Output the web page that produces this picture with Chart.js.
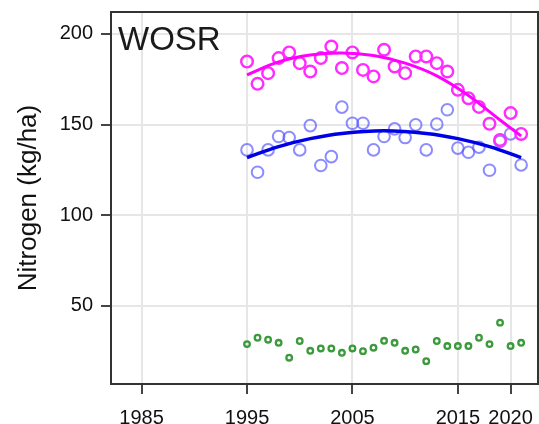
<!DOCTYPE html>
<html>
<head>
<meta charset="utf-8">
<script src="https://cdn.jsdelivr.net/npm/chart.js@4"></script>
<style>
html,body{margin:0;padding:0;background:#fff;overflow:hidden;}
#wrap{width:539px;height:424px;position:relative;overflow:hidden;}
canvas{display:block;}
</style>
</head>
<body>
<div id="wrap"><canvas id="c" width="539" height="424"></canvas></div>
<script>
const years = [1995,1996,1997,1998,1999,2000,2001,2002,2003,2004,2005,2006,2007,2008,2009,2010,2011,2012,2013,2014,2015,2016,2017,2018,2019,2020,2021];
const magentaValues = [184.7,172.4,178.3,186.6,189.7,183.8,179.2,186.6,193,181.1,189.7,180.1,176.5,191.2,182,178.3,187.5,187.5,183.8,179.2,169.1,164.5,159.7,150.4,141.5,156.3,144.8];
const blueValues = [136,123.7,136,143.4,142.8,136,149.4,127.4,132.3,159.6,150.7,150.7,136,143.4,147.6,142.8,149.8,136,150.2,158.1,137,134.7,137.5,124.8,140.6,144.8,127.7];
const greenValues = [29,32.5,31.4,29.7,21.5,30.7,25.3,26.6,26.6,24.2,26.6,25.1,27,30.8,29.7,25.3,26,19.6,30.7,27.9,27.9,27.9,32.5,29,40.8,27.9,29.7];
const magentaTrendYears = [1995,1998,2001,2004,2007,2010,2013,2016,2019,2021];
const magentaTrend = [177.4,184.5,188.3,189.4,188,183.8,176.8,166,152.5,143.7];
const blueTrendYears = [1995,1998,2001,2004,2008,2012,2015,2018,2021];
const blueTrend = [131.8,137.8,142.2,145.1,146.5,145.1,142.2,137.8,131.8];
const xTickValues = [1985,1995,2005,2015,2020];
const yTickValues = [50,100,150,200];
const panelLabel = 'WOSR';
const yTitle = 'Nitrogen (kg/ha)';

const pts = (xs, ys) => xs.map((x,i)=>({x:x, y:ys[i]}));

const PLOT_RIGHT = 538;

const framePlugin = {
  id:'frame',
  afterLayout(chart){
    const a = chart.chartArea;
    a.right = PLOT_RIGHT;
    a.width = a.right - a.left;
    const x = chart.scales.x;
    x.right = PLOT_RIGHT;
    x.width = x.right - x.left;
    x.configure();
  },
  afterDatasetsDraw(chart){
    const {ctx, chartArea:a} = chart;
    ctx.save();
    ctx.strokeStyle = '#333';
    ctx.lineWidth = 2;
    ctx.strokeRect(a.left, a.top, a.right - a.left, a.bottom - a.top);
    ctx.fillStyle = '#1a1a1a';
    ctx.font = '33px "Liberation Sans", Arial, sans-serif';
    ctx.textBaseline = 'alphabetic';
    ctx.textAlign = 'left';
    ctx.fillText(panelLabel, a.left + 7, a.top + 38);
    ctx.restore();
  }
};

new Chart(document.getElementById('c'), {
  type:'scatter',
  data:{
    datasets:[
      {data:pts(magentaTrendYears, magentaTrend), showLine:true, borderColor:'#ff00ff', borderWidth:3, pointRadius:0, tension:0.4, order:1},
      {data:pts(blueTrendYears, blueTrend), showLine:true, borderColor:'#0000e6', borderWidth:3.5, pointRadius:0, tension:0.4, order:2},
      {data:pts(years, magentaValues), pointRadius:5.8, pointBorderWidth:2.4, borderColor:'#ff2bff', backgroundColor:'rgba(0,0,0,0)', order:3},
      {data:pts(years, blueValues), pointRadius:5.8, pointBorderWidth:2, borderColor:'rgba(85,85,255,0.68)', backgroundColor:'rgba(0,0,0,0)', order:4},
      {data:pts(years, greenValues), pointRadius:2.8, pointBorderWidth:2.3, borderColor:'#3b9a3b', backgroundColor:'rgba(0,0,0,0)', order:5}
    ]
  },
  options:{
    responsive:false,
    animation:false,
    events:[],
    layout:{padding:{left:0, top:12, right:1, bottom:0}},
    plugins:{legend:{display:false}, tooltip:{enabled:false}},
    scales:{
      x:{
        type:'linear', min:1982.1, max:2022.6,
        afterBuildTicks(s){ s.ticks = xTickValues.map(v=>({value:v})); },
        afterFit(s){ s.height = 40; s.paddingLeft = 0; s.paddingRight = 0; },
        ticks:{callback:v=>String(v), color:'#111', font:{family:'"Liberation Sans", Arial, sans-serif', size:20}, padding:12, maxRotation:0, autoSkip:false},
        grid:{color:'#e6e6e6', lineWidth:2, tickColor:'#444', tickLength:10, tickWidth:2},
        border:{color:'#333', width:2}
      },
      y:{
        min:7, max:212,
        afterBuildTicks(s){ s.ticks = yTickValues.map(v=>({value:v})); },
        afterFit(s){ s.width = 111; s.paddingTop = 0; s.paddingBottom = 0; s.paddingRight = 0; s.paddingLeft = 0; },
        ticks:{color:'#111', font:{family:'"Liberation Sans", Arial, sans-serif', size:20}, padding:8},
        grid:{color:'#e6e6e6', lineWidth:2, tickColor:'#444', tickLength:10, tickWidth:2},
        border:{color:'#333', width:2},
        title:{display:true, text:yTitle, color:'#111', font:{family:'"Liberation Sans", Arial, sans-serif', size:26}, padding:{top:13, bottom:0}}
      }
    }
  },
  plugins:[framePlugin]
});
</script>
</body>
</html>
